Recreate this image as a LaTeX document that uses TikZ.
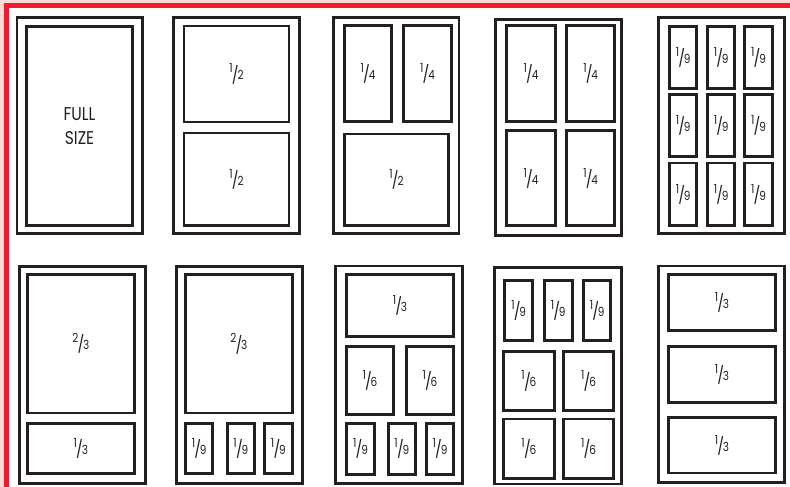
\documentclass[tikz,border=0pt]{standalone}
\usepackage{fontspec}
\setmainfont{Poppins}[FakeStretch=0.84]
\definecolor{ink}{HTML}{231F20}
\definecolor{framered}{HTML}{ED1C2E}
\definecolor{blush}{HTML}{FBDAD5}
\newcommand{\fr}[2]{{\fontsize{12.5}{13}\selectfont\raisebox{7pt}{#1}\kern-0.8pt\raisebox{-1.2pt}{\fontsize{17}{17}\selectfont/}\kern-1.2pt#2}}
\newcommand{\pan}[7][cell]{\node[#1, minimum width={(#5)-(#3)}, minimum height={(#6)-(#4)}] (#2) at ({((#3)+(#5))/2},{((#4)+(#6))/2}) {#7};}
\tikzset{
  tray/.style={draw=ink, line width=2.8pt, inner sep=0pt},
  cell/.style={draw=ink, line width=2.8pt, inner sep=0pt, align=center, text=ink},
  bigtext/.style={font=\fontsize{18.5}{24}\selectfont}
}
\begin{document}
\begin{tikzpicture}[x=1pt,y=-1pt]
\useasboundingbox (0,0) rectangle (790,487);
\fill[white] (0,0) rectangle (790,487);
\fill[blush] (0,0) rectangle (790,3.5);
\fill[blush] (0,0) rectangle (4.2,487);
\draw[framered, line width=4.8pt, line join=miter] (6.6,487) |- (790,5.8);
% row 1
\pan[tray]{tA}{17}{17.3}{142.5}{233.5}{}
\pan[cell,bigtext]{a1}{26.5}{26.5}{132.5}{225.5}{FULL\\SIZE}
\pan[tray]{tB}{173.8}{17.3}{299.8}{233.5}{}
\pan{b1}{184}{26}{289}{122}{\fr12}
\pan{b2}{184}{133}{289}{225.5}{\fr12}
\pan[tray]{tC}{333.8}{17.5}{459}{233.8}{}
\pan{c1}{344.2}{25.8}{391.8}{121.5}{\fr14}
\pan{c2}{403.5}{25.8}{451.5}{121.5}{\fr14}
\pan{c3}{344.2}{134}{448.8}{225.5}{\fr12}
\pan[tray]{tD}{495.8}{19.2}{621.5}{235.5}{}
\pan{d1}{506.8}{25.5}{555.2}{121.5}{\fr14}
\pan{d2}{566.5}{25.5}{614.8}{121.5}{\fr14}
\pan{d3}{506.8}{130.5}{555.2}{225.8}{\fr14}
\pan{d4}{566.5}{130.5}{614.8}{225.8}{\fr14}
\pan[tray]{tE}{658.8}{17.5}{784.2}{233.8}{}
\pan{e11}{669.8}{26.5}{696.5}{88.2}{\fr19}
\pan{e12}{707.5}{26.5}{734.8}{88.2}{\fr19}
\pan{e13}{744.8}{26.5}{772.2}{88.2}{\fr19}
\pan{e21}{669.8}{94.8}{696.5}{156.5}{\fr19}
\pan{e22}{707.5}{94.8}{734.8}{156.5}{\fr19}
\pan{e23}{744.8}{94.8}{772.2}{156.5}{\fr19}
\pan{e31}{669.8}{163}{696.5}{225.5}{\fr19}
\pan{e32}{707.5}{163}{734.8}{225.5}{\fr19}
\pan{e33}{744.8}{163}{772.2}{225.5}{\fr19}
% row 2
\pan[tray]{tF}{19.2}{266.2}{145.5}{483.2}{}
\pan{f1}{27.5}{274.2}{134.2}{413}{\fr23}
\pan{f2}{27.5}{423.2}{134.2}{473.2}{\fr13}
\pan[tray]{tG}{176.2}{266.2}{302.8}{483.2}{}
\pan{g1}{185.2}{274.8}{292.5}{413}{\fr23}
\pan{g2}{185.8}{423.8}{212.5}{473.2}{\fr19}
\pan{g3}{227.2}{423.8}{254.5}{473.2}{\fr19}
\pan{g4}{264.5}{423.8}{292.2}{473.2}{\fr19}
\pan[tray]{tH}{335.8}{266}{462.2}{483.2}{}
\pan{h1}{346.5}{274.2}{453.5}{336.5}{\fr13}
\pan{h2}{346.5}{346.5}{393.5}{414.8}{\fr16}
\pan{h3}{406.5}{346.5}{453.5}{414.8}{\fr16}
\pan{h4}{346.8}{423.2}{374.2}{474.2}{\fr19}
\pan{h5}{388.2}{423.2}{415.5}{474.2}{\fr19}
\pan{h6}{426.5}{423.2}{453.5}{474.2}{\fr19}
\pan[tray]{tI}{494.2}{267.5}{621.5}{484}{}
\pan{i1}{504.8}{280.8}{532.5}{340.8}{\fr19}
\pan{i2}{544.2}{280.8}{572.2}{340.8}{\fr19}
\pan{i3}{583.5}{280.8}{610.8}{340.8}{\fr19}
\pan{i4}{503.5}{351.5}{554.2}{410.2}{\fr16}
\pan{i5}{563.5}{351.5}{613.5}{410.2}{\fr16}
\pan{i6}{503.5}{419}{554.2}{478.2}{\fr16}
\pan{i7}{563.5}{419}{613.5}{478.2}{\fr16}
\pan[tray]{tJ}{658.8}{266}{784.5}{482.5}{}
\pan{j1}{668.8}{274.2}{775.2}{330.2}{\fr13}
\pan{j2}{668.8}{346.5}{775.2}{402.5}{\fr13}
\pan{j3}{668.8}{417.5}{775.2}{473}{\fr13}
\end{tikzpicture}
\end{document}
